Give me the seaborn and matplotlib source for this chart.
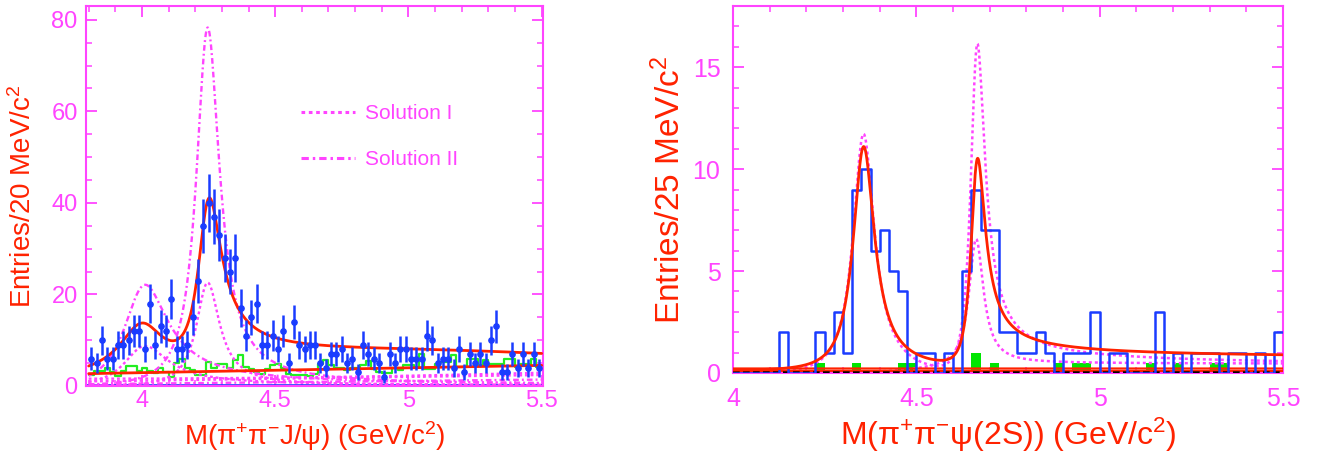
import numpy as np
import pandas as pd
import matplotlib
matplotlib.use("Agg")
import matplotlib.pyplot as plt
import seaborn as sns
from matplotlib.ticker import MultipleLocator
from matplotlib.lines import Line2D

# ---------------- left panel: M(pi+ pi- J/psi) ----------------
jpsi_range = [3.80, 5.50]
jpsi_bin_width = 0.02
jpsi_counts = [6, 5, 10, 6, 6, 9, 9, 10, 12, 12,
               8, 18, 9, 13, 12, 19, 8, 8, 9, 15,
               23, 35, 40, 37, 33, 28, 25, 28, 17, 11,
               15, 18, 9, 9, 11, 8, 12, 5, 14, 9,
               8, 9, 9, 5, 4, 7, 7, 8, 5, 6,
               3, 9, 7, 6, 5, 2, 7, 5, 8, 8,
               6, 6, 6, 11, 10, 5, 6, 6, 4, 8,
               3, 7, 5, 7, 5, 10, 13, 3, 3, 7,
               4, 7, 4, 7, 4]
jpsi_sideband = [2.5, 3.3, 3.3, 4.0, 3.0, 2.1, 3.3, 4.3, 4.3, 3.3,
                 3.9, 3.3, 2.8, 3.9, 3.0, 2.0, 5.0, 6.0, 4.0, 3.5,
                 2.3, 2.3, 5.3, 4.0, 4.9, 4.9, 4.0, 5.6, 6.7, 4.2,
                 3.8, 3.1, 2.7, 3.8, 4.5, 4.9, 4.0, 2.7, 2.3, 2.3,
                 2.3, 2.1, 2.7, 4.9, 5.6, 4.5, 4.0, 4.0, 3.4, 4.0,
                 4.0, 4.5, 5.5, 3.8, 3.1, 2.8, 2.8, 4.0, 3.6, 4.5,
                 4.5, 4.2, 6.9, 3.8, 3.8, 4.9, 5.3, 5.3, 6.7, 4.2,
                 4.2, 6.0, 6.0, 4.5, 5.6, 4.9, 4.9, 4.9, 6.0, 6.0,
                 4.2, 4.9, 4.9, 6.0, 4.2]
# fit: two interfering resonances + background
jpsi_mass = [4.030, 4.250]
jpsi_width = [0.226, 0.108]
jpsi_amp = [2.70, 5.00]
jpsi_phase = [0.0, 0.0]
jpsi_threshold = 3.376
jpsi_bkg = [3.0, 5.97, -2.37]          # total-fit background (poly in m-3.8)
jpsi_side_bkg = [2.7, 1.06]            # sideband background line
jpsi_sol1_peak = [8.5, 22.5]
jpsi_sol2_peak = [21.5, 78.0]
jpsi_sol1_floor = [1.0, 2.4]
jpsi_sol2_floor = [0.4, 1.4]
jpsi_sol3_floor = [1.6, 2.9]

# ---------------- right panel: M(pi+ pi- psi(2S)) ----------------
psi2s_range = [4.0, 5.5]
psi2s_bin_width = 0.025
psi2s_counts = [0, 0, 0, 0, 0, 2, 0, 0, 0, 2,
                1, 3, 1, 9, 10, 6, 7, 5, 4, 0,
                1, 1, 0, 1, 0, 5, 9, 7, 7, 2,
                2, 1, 1, 2, 1, 0, 1, 1, 1, 3,
                0, 1, 1, 0, 0, 0, 3, 0, 1, 0,
                1, 1, 1, 0, 1, 1, 0, 1, 0, 2]
psi2s_sideband = [0, 0, 0, 0, 0, 0, 0, 0, 0, 0.5,
                  0, 0, 0, 0.5, 0, 0, 0, 0, 0.5, 0.5,
                  0, 0, 0, 0, 0, 0, 1, 0, 0.5, 0,
                  0, 0, 0, 0, 0, 0.5, 0, 0.5, 0.5, 0,
                  0, 0, 0, 0, 0, 0.5, 0, 0, 0.5, 0,
                  0, 0, 0.5, 0.5, 0, 0, 0, 0, 0, 0]
psi2s_mass = [4.361, 4.664]
psi2s_width = [0.074, 0.048]
psi2s_amp = [3.27, 2.85]
psi2s_phase = [0.0, 0.0]
psi2s_threshold = 3.965
psi2s_bkg = [0.15, 0.50, 4.55, 0.08]   # base, step, centre, scale
psi2s_flat = [0.22, 0.10]
psi2s_sol1_amp = [3.38, 3.69]
psi2s_sol2_peak = [6.2]
psi2s_sol_floor = [0.45, 0.28]

# ---------------- style ----------------
MAG = "#ff44ff"
RED = "#ff2200"
BLUE = "#1a3cff"
GREEN = "#22ee22"
GREEN_FILL = "#00e600"
DOT = (0, (1.2, 1.2))
DASHDOT = (0, (2.4, 1.3, 0.8, 1.3))

sns.set_theme(style="white")
plt.rcParams["font.family"] = ["Liberation Sans", "DejaVu Sans"]
plt.rcParams["mathtext.fontset"] = "custom"
plt.rcParams["mathtext.rm"] = "Liberation Sans"
plt.rcParams["mathtext.it"] = "Liberation Sans:italic"
plt.rcParams["mathtext.bf"] = "Liberation Sans:bold"


def bw(m, M, G, thr, p=2.0):
    g = G * ((m - thr) / (M - thr)) ** p
    return np.sqrt(G * g) * M / (M ** 2 - m ** 2 - 1j * M * g)


def coherent(m, masses, widths, amps, phases, thr):
    a = np.zeros_like(m, dtype=complex)
    for M, G, A, ph in zip(masses, widths, amps, phases):
        a += A * np.exp(1j * ph) * bw(m, M, G, thr)
    return np.abs(a) ** 2


def line(ax, x, y, color, lw, ls="-", z=3):
    sns.lineplot(x=x, y=y, ax=ax, color=color, linewidth=lw, linestyle=ls,
                 zorder=z, estimator=None, sort=False)


def hist(ax, centers, weights, edges, **kw):
    df = pd.DataFrame({"m": centers, "w": np.asarray(weights, dtype=float)})
    sns.histplot(data=df, x="m", weights="w", bins=list(edges), ax=ax, **kw)


fig = plt.figure(figsize=(13.27, 4.55), dpi=100)
ax1 = fig.add_axes([86 / 1327, (455 - 386) / 455, 457 / 1327, 380 / 455])
ax2 = fig.add_axes([733 / 1327, (455 - 373) / 455, 550 / 1327, 367 / 455])

# ======== left ========
nb = len(jpsi_counts)
edges1 = jpsi_range[0] + jpsi_bin_width * np.arange(nb + 1)
cent1 = 0.5 * (edges1[:-1] + edges1[1:])
m1 = np.linspace(jpsi_range[0], jpsi_range[1], 1200)
t1 = m1 - 3.8

hist(ax1, cent1, jpsi_sideband, edges1, element="step", fill=False,
     color=GREEN, linewidth=1.6, zorder=2)

# solution curves
s1a = jpsi_sol1_peak[0] * np.abs(bw(m1, jpsi_mass[0], jpsi_width[0], jpsi_threshold)) ** 2
s1b = jpsi_sol1_peak[1] * np.abs(bw(m1, jpsi_mass[1], jpsi_width[1], jpsi_threshold)) ** 2
s2a = jpsi_sol2_peak[0] * np.abs(bw(m1, jpsi_mass[0], jpsi_width[0], jpsi_threshold)) ** 2
s2b = jpsi_sol2_peak[1] * np.abs(bw(m1, jpsi_mass[1], jpsi_width[1], jpsi_threshold)) ** 2
for y in (s1a, s1b):
    line(ax1, m1, y, MAG, 1.7, DOT, 3)
for y in (s2a, s2b):
    line(ax1, m1, y, MAG, 1.7, DASHDOT, 3)
fl = (m1 - jpsi_range[0]) / (jpsi_range[1] - jpsi_range[0])
line(ax1, m1, jpsi_sol1_floor[0] + (jpsi_sol1_floor[1] - jpsi_sol1_floor[0]) * fl, MAG, 1.7, DOT, 3)
line(ax1, m1, jpsi_sol2_floor[0] + (jpsi_sol2_floor[1] - jpsi_sol2_floor[0]) * fl, MAG, 1.7, DASHDOT, 3)
line(ax1, m1, jpsi_sol3_floor[0] + (jpsi_sol3_floor[1] - jpsi_sol3_floor[0]) * fl ** 2, MAG, 1.7, DOT, 3)

bkg1 = jpsi_bkg[0] + jpsi_bkg[1] * t1 + jpsi_bkg[2] * t1 ** 2
tot1 = coherent(m1, jpsi_mass, jpsi_width, jpsi_amp, jpsi_phase, jpsi_threshold) + bkg1
line(ax1, m1, jpsi_side_bkg[0] + jpsi_side_bkg[1] * t1, RED, 2.0, "-", 4)
line(ax1, m1, tot1, RED, 2.0, "-", 4)

cnt1 = np.array(jpsi_counts, dtype=float)
ax1.errorbar(cent1, cnt1, yerr=np.sqrt(cnt1), fmt="o", ms=3.8, color=BLUE,
             elinewidth=1.8, capsize=0, zorder=5)
ax1.axhline(0.15, color=BLUE, lw=1.2, zorder=1)

ax1.set_xlim(3.79, 5.505)
ax1.set_ylim(0, 83)
ax1.yaxis.set_major_locator(MultipleLocator(20))
ax1.yaxis.set_minor_locator(MultipleLocator(5))
ax1.set_xticks([4, 4.5, 5, 5.5], ["4", "4.5", "5", "5.5"])
ax1.xaxis.set_minor_locator(MultipleLocator(0.1))
ax1.tick_params(axis="x", which="major", pad=3)
ax1.tick_params(axis="y", which="major", pad=6)
ax1.tick_params(which="both", labelsize=17)

hand = [Line2D([], [], color=MAG, lw=2.2, ls=DOT),
        Line2D([], [], color=MAG, lw=2.2, ls=DASHDOT)]
ax1.legend(hand, ["Solution I", "Solution II"], loc="upper left",
           bbox_to_anchor=(0.47, 0.742), frameon=False, fontsize=15,
           labelcolor=MAG, handlelength=2.6, handletextpad=0.5,
           labelspacing=1.3, borderaxespad=0, borderpad=0)

ax1.set_xlabel(r"M($\mathrm{\pi^{+}\pi^{-}}$J/$\mathrm{\psi}$) (GeV/c$^{2}$)",
               color=RED, fontsize=20)
ax1.set_ylabel(r"Entries/20 MeV/c$^{2}$", color=RED, fontsize=20)
ax1.xaxis.set_label_coords(0.5, -0.088)
ax1.yaxis.set_label_coords(-0.107, 0.5)

# ======== right ========
nb2 = len(psi2s_counts)
edges2 = psi2s_range[0] + psi2s_bin_width * np.arange(nb2 + 1)
cent2 = 0.5 * (edges2[:-1] + edges2[1:])
m2 = np.linspace(psi2s_range[0], psi2s_range[1], 1500)

hist(ax2, cent2, psi2s_sideband, edges2, element="bars", fill=True,
     color=GREEN_FILL, alpha=1.0, linewidth=0, zorder=2)
hist(ax2, cent2, psi2s_counts, edges2, element="step", fill=False,
     color=BLUE, linewidth=1.8, zorder=4)

rise = 1.0 / (1.0 + np.exp(-(m2 - psi2s_bkg[2]) / psi2s_bkg[3]))
floor1 = psi2s_sol_floor[0] * rise
floor2 = psi2s_sol_floor[1] * rise
sol1 = coherent(m2, psi2s_mass, psi2s_width, psi2s_sol1_amp,
                psi2s_phase, psi2s_threshold) + floor2
sol2 = psi2s_sol2_peak[0] * np.abs(bw(m2, psi2s_mass[1], psi2s_width[1], psi2s_threshold)) ** 2 + floor1
line(ax2, m2, sol1, MAG, 1.8, DOT, 3)
line(ax2, m2, sol2, MAG, 1.8, DOT, 3)

for v in psi2s_flat:
    line(ax2, m2, np.full_like(m2, v), RED, 1.6, "-", 3)
line(ax2, m2, np.full_like(m2, 0.03), "black", 1.6, (0, (3, 1.5)), 3)

bkg2 = psi2s_bkg[0] + psi2s_bkg[1] * rise
tot2 = coherent(m2, psi2s_mass, psi2s_width, psi2s_amp, psi2s_phase, psi2s_threshold) + bkg2
line(ax2, m2, tot2, RED, 2.0, "-", 5)

ax2.set_xlim(4.0, 5.5)
ax2.set_ylim(0, 18)
ax2.yaxis.set_major_locator(MultipleLocator(5))
ax2.yaxis.set_minor_locator(MultipleLocator(1))
ax2.set_xticks([4, 4.5, 5, 5.5], ["4", "4.5", "5", "5.5"])
ax2.xaxis.set_minor_locator(MultipleLocator(0.1))
ax2.tick_params(axis="x", which="major", pad=10)
ax2.tick_params(axis="y", which="major", pad=9)
ax2.tick_params(which="both", labelsize=18)

ax2.set_xlabel(r"M($\mathrm{\pi^{+}\pi^{-}\psi}$(2S)) (GeV/c$^{2}$)",
               color=RED, fontsize=23)
ax2.set_ylabel(r"Entries/25 MeV/c$^{2}$", color=RED, fontsize=24)
ax2.xaxis.set_label_coords(0.5, -0.115)
ax2.yaxis.set_label_coords(-0.084, 0.5)

for ax in (ax1, ax2):
    ax.grid(False)
    ax.set_facecolor("white")
    for sp in ax.spines.values():
        sp.set_color(MAG)
        sp.set_linewidth(1.5)
        sp.set_visible(True)
    ax.tick_params(which="both", direction="in", top=True, right=True,
                   bottom=True, left=True, color=MAG, labelcolor=MAG)
    ax.tick_params(which="major", length=8, width=1.3)
    ax.tick_params(which="minor", length=4, width=1.1)
if ax2.get_legend() is not None:
    ax2.get_legend().remove()

fig.savefig("out.png", dpi=100, facecolor="white")
